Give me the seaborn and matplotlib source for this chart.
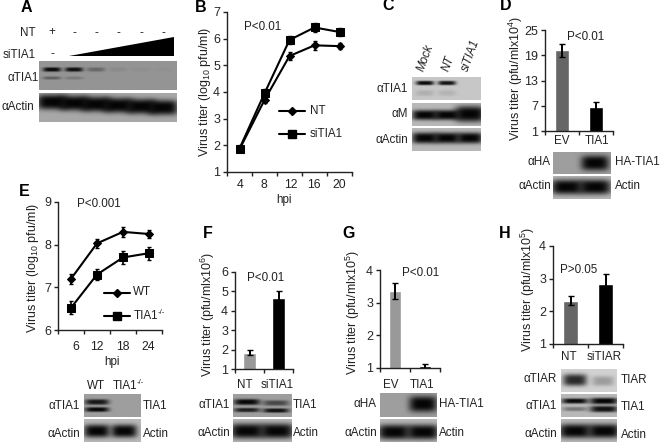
"""
Virus titer panels A-H with western blots
Run: python3 plot.py
"""

import numpy as np
import matplotlib
matplotlib.use("Agg")
import matplotlib.pyplot as plt
from matplotlib.patches import Polygon
import seaborn as sns

W, H = 660, 442

# ── Data ─────────────────────────────────────
B_HPI = [4, 8, 12, 16, 20]
B_NT = [1.85, 3.70, 5.35, 5.75, 5.72]
B_NT_ERR = [0.10, 0.12, 0.15, 0.18, 0.10]
B_SI = [1.88, 3.95, 5.95, 6.42, 6.25]
B_SI_ERR = [0.12, 0.15, 0.15, 0.18, 0.15]

E_HPI = [6, 12, 18, 24]
E_WT = [7.20, 8.03, 8.30, 8.25]
E_WT_ERR = [0.12, 0.10, 0.12, 0.10]
E_KO = [6.52, 7.30, 7.70, 7.80]
E_KO_ERR = [0.15, 0.12, 0.15, 0.15]

D_LABELS = ["EV", "TIA1"]
D_VALUES = [20.2, 6.8]
D_ERR = [1.5, 1.0]
F_LABELS = ["NT", "siTIA1"]
F_VALUES = [1.85, 4.65]
F_ERR = [0.15, 0.35]
G_LABELS = ["EV", "TIA1"]
G_VALUES = [3.35, 1.05]
G_ERR = [0.25, 0.08]
H_LABELS = ["NT", "siTIAR"]
H_VALUES = [2.33, 2.83]
H_ERR = [0.14, 0.32]

# band strengths per lane
A_TIA1_TOP = [0.95, 0.90, 0.30, 0.07, 0.04, 0.02]
A_TIA1_LOW = [0.35, 0.18, 0.0, 0.0, 0.0, 0.0]
A_ACTIN = [0.97, 0.97, 0.97, 0.97, 0.97, 0.97]
C_TIA1_TOP = [0.95, 0.90, 0.0]
C_TIA1_LOW = [0.12, 0.10, 0.0]
C_M = [0.97, 0.97, 0.97]
C_ACTIN = [0.97, 0.97, 0.97]
ACTIN_PAIR = [0.97, 0.97]

sns.set_style("ticks")
plt.rcParams["font.family"] = ["Liberation Sans", "DejaVu Sans"]
plt.rcParams["mathtext.fontset"] = "custom"
plt.rcParams["mathtext.rm"] = "Liberation Sans"
plt.rcParams["mathtext.default"] = "regular"
plt.rcParams["text.color"] = "#222222"
plt.rcParams["axes.labelcolor"] = "#222222"

FS = 8.4
FS_Y = 9.0
fig = plt.figure(figsize=(W / 100, H / 100), dpi=100)

# overlay in pixel coords for text
ov = fig.add_axes([0, 0, 1, 1], zorder=5)
ov.set_xlim(0, W)
ov.set_ylim(H, 0)
ov.axis("off")


def px_axes(l, t, r, b):
    return fig.add_axes([l / W, 1 - b / H, (r - l) / W, (b - t) / H])


def label(x, y, s, ha="center", size=FS, **kw):
    ov.text(x, y, s, ha=ha, va="center", fontsize=size, **kw)


def tia_ko(x, y):
    # hyphens, mathtext would turn them into long minus signs
    label(x, y, "TIA1", ha="left")
    label(x + 23.5, y - 3, "-/-", ha="left", size=5.6)


def style_axes(ax, yticks):
    sns.despine(ax=ax)
    ax.set_yticks(yticks)
    ax.tick_params(axis="y", length=3, width=1, pad=2, labelsize=FS_Y, color="#222222")
    ax.tick_params(axis="x", which="major", length=0, labelbottom=False)
    ax.tick_params(axis="x", which="minor", length=3, width=1, color="#222222")
    for s in ax.spines.values():
        s.set_linewidth(1)
        s.set_color("#222222")
    ax.set_xlabel("")
    ax.set_ylabel("")
    ax.patch.set_alpha(0)


def growth(box, x, a, a_err, b, b_err, names, xlim, ylim, yticks):
    ax = px_axes(*box)
    for y, err, m, ms, name in [(a, a_err, "D", 4.5, names[0]), (b, b_err, "s", 6, names[1])]:
        sns.lineplot(x=x, y=y, marker=m, markersize=ms, color="black", linewidth=1.5,
                     markeredgecolor="black", label=name, ax=ax, errorbar=None)
        ax.errorbar(x, y, yerr=err, fmt="none", ecolor="black", elinewidth=1.2, capsize=1.5)
    ax.set_xlim(*xlim)
    ax.set_ylim(*ylim)
    ax.set_xticks(x)
    step = x[1] - x[0]
    ax.set_xticks(np.arange(xlim[0], xlim[1] + 0.01, step), minor=True)
    style_axes(ax, yticks)
    ax.get_legend().remove()
    return ax


def bars(box, labels, values, err, colors, ylim, yticks, width=0.44):
    ax = px_axes(*box)
    sns.barplot(x=labels, y=values, hue=labels, palette=colors, width=width, legend=False,
                saturation=1, ax=ax)
    ax.errorbar(range(2), values, yerr=err, fmt="none", ecolor="black", elinewidth=1.4, capsize=2.5)
    ax.set_xlim(-0.5, 1.5)
    ax.set_ylim(*ylim)
    ax.set_xticks([-0.5, 0.5, 1.5], minor=True)
    style_axes(ax, yticks)
    return ax


def blot(box, bg, bands):
    """bands: (cx, cy, half width, half height, strength), all in pixels but strength"""
    l, t, r, b = box
    yy, xx = np.mgrid[t:b, l:r] + 0.5
    img = np.full(xx.shape, bg, dtype=float)
    for cx, cy, hw, hh, s in bands:
        prof = np.exp(-((xx - cx) / hw) ** 4 - np.abs((yy - cy) / hh) ** 3)
        img *= 1 - s * prof
    ax = px_axes(l, t, r, b)
    sns.heatmap(img, cmap="gray", vmin=0, vmax=1, cbar=False, xticklabels=False,
                yticklabels=False, ax=ax)
    return ax


def lanes(xs, cy, hw, hh, strengths):
    return [(x, cy, hw, hh, s) for x, s in zip(xs, strengths)]


# ── Panel letters ────────────────────────────
for s, x, y in [("A", 26, 7), ("B", 201, 7), ("C", 388, 6), ("D", 506, 6),
                ("E", 24, 192), ("F", 208, 234), ("G", 349, 234), ("H", 505, 234)]:
    label(x, y, s, size=11.5, fontweight="bold", color="black")

# ── A ────────────────────────────────────────
A_X = [52, 74, 96, 118, 141, 163]
label(28, 33, "NT", ha="center")
label(52, 32, "+")
for x in A_X[1:]:
    label(x, 33, "-")
label(19, 55, "siTIA1")
label(52, 54, "-")
ov.add_patch(Polygon([(69, 56), (174, 37), (174, 56)], closed=True, color="black", lw=0))
label(23, 78, "αTIA1")
label(18, 107, "αActin")
blot((39, 61, 177, 90), 0.58, lanes(A_X, 69.5, 9, 2.2, A_TIA1_TOP) + lanes(A_X, 78, 9, 1.6, A_TIA1_LOW))
blot((39, 93, 177, 122), 0.66, [(x, 102 + i * 1.1, 15, 7.5, s) for i, (x, s) in enumerate(zip(A_X, A_ACTIN))])

# ── B ────────────────────────────────────────
growth((227, 12, 352, 172), B_HPI, B_NT, B_NT_ERR, B_SI, B_SI_ERR, ["NT", "siTIA1"],
       (2, 22), (1, 7), range(1, 8))
for x, s in zip([240, 264, 291, 314, 339], B_HPI):
    label(x, 185, str(s), size=FS_Y - 0.2)
label(263, 27, "P<0.01")
label(205, 92, "Virus titer (log$_{10}$ pfu/ml)", rotation=90, size=FS_Y)
label(284, 200, "hpi")
for y, m, ms, s in [(111, "D", 4.5, "NT"), (134, "s", 6, "siTIA1")]:
    ov.plot([279, 305], [y, y], color="black", lw=1.5)
    ov.plot([292], [y], color="black", marker=m, markersize=ms)
    label(310, y, s, ha="left")

# ── C ────────────────────────────────────────
C_X = [425, 447, 470]
for x, s in zip(C_X, ["Mock", "NT", "siTIA1"]):
    ov.text(x + 1, 73, s, rotation=70, ha="center", va="bottom", fontsize=FS, style="italic")
label(408, 89, "αTIA1", ha="right")
label(408, 114, "αM", ha="right")
label(408, 140, "αActin", ha="right")
blot((412, 77, 481, 100), 0.78, lanes(C_X[:2], 83, 9, 2.2, C_TIA1_TOP) + lanes(C_X[:2], 93, 9, 3, C_TIA1_LOW))
blot((412, 103, 481, 126), 0.72, lanes(C_X[:2], 115, 13, 5, C_M[:2]) + [(470, 114, 15, 8, C_M[2])])
blot((412, 128, 481, 151), 0.72, lanes(C_X, 138, 13, 5.5, C_ACTIN))

# ── D ────────────────────────────────────────
bars((545, 30, 613, 131), D_LABELS, D_VALUES, D_ERR, ["#666666", "#000000"], (1, 25), [1, 7, 13, 19, 25])
for x, s in zip([562, 597], D_LABELS):
    label(x, 141, s)
label(516, 78, "Virus titer (pfu/mlx10$^{4}$)", rotation=90, size=FS_Y)
label(586, 37, "P<0.01")
label(551, 162, "αHA", ha="right")
label(551, 186, "αActin", ha="right")
label(615, 162, "HA-TIA1", ha="left")
label(615, 186, "Actin", ha="left")
blot((553, 152, 611, 174), 0.62, [(595, 163, 14, 7.5, 0.97)])
blot((553, 176, 611, 199), 0.72, lanes([567, 595], 187, 16, 7.5, ACTIN_PAIR))

# ── E ────────────────────────────────────────
growth((58, 202, 162, 330), E_HPI, E_WT, E_WT_ERR, E_KO, E_KO_ERR, ["WT", "TIA1-/-"],
       (3, 27), (6, 9), [6, 7, 8, 9])
for x, s in zip([76, 97, 123, 148], E_HPI):
    label(x, 347, str(s), size=FS_Y - 0.2)
label(77, 204, "P<0.001", ha="left")
label(33, 268, "Virus titer (log$_{10}$ pfu/ml)", rotation=90, size=FS_Y)
label(112, 362, "hpi")
for y, m, ms in [(293, "D", 4.5), (316, "s", 6)]:
    ov.plot([104, 130], [y, y], color="black", lw=1.5)
    ov.plot([117], [y], color="black", marker=m, markersize=ms)
label(133, 292, "WT", ha="left")
tia_ko(134, 316)
label(96, 386, "WT")
tia_ko(113, 386)
label(80, 406, "αTIA1", ha="right")
label(80, 434, "αActin", ha="right")
label(143, 406, "TIA1", ha="left")
label(143, 434, "Actin", ha="left")
blot((84, 394, 141, 417), 0.62, [(97, 402, 12, 2.8, 0.85), (97, 409.5, 12, 2.4, 0.95)])
blot((84, 419, 141, 442), 0.72, lanes([97, 124], 431, 13, 6.5, ACTIN_PAIR))

# ── F ────────────────────────────────────────
bars((235, 272, 293, 369), F_LABELS, F_VALUES, F_ERR, ["#999999", "#000000"], (1, 6), range(1, 7))
for x, s in zip([245, 277], F_LABELS):
    label(x, 385, s)
label(208, 314, "Virus titer (pfu/mlx10$^{6}$)", rotation=90, size=FS_Y)
label(266, 278, "P<0.01")
label(230, 405, "αTIA1", ha="right")
label(230, 433, "αActin", ha="right")
label(293, 405, "TIA1", ha="left")
label(293, 433, "Actin", ha="left")
blot((233, 394, 292, 417), 0.62, [(247, 402, 13, 3, 0.95), (247, 410, 13, 2.2, 0.8),
                                  (276, 403, 13, 2.8, 0.55), (276, 410.5, 13, 2.2, 0.9)])
blot((233, 419, 292, 442), 0.72, lanes([247, 277], 431, 17, 7.5, ACTIN_PAIR))

# ── G ────────────────────────────────────────
bars((380, 270, 440, 368), G_LABELS, G_VALUES, G_ERR, ["#999999", "#000000"], (1, 4), range(1, 5), width=0.4)
for x, s in zip([391, 422], G_LABELS):
    label(x, 385, s)
label(353, 312, "Virus titer (pfu/mlx10$^{5}$)", rotation=90, size=FS_Y)
label(421, 273, "P<0.01")
label(377, 404, "αHA", ha="right")
label(377, 433, "αActin", ha="right")
label(439, 404, "HA-TIA1", ha="left")
label(439, 433, "Actin", ha="left")
blot((380, 393, 437, 417), 0.62, [(423, 404, 14, 8, 0.97)])
blot((380, 419, 437, 442), 0.72, lanes([394, 423], 432, 16, 7.5, ACTIN_PAIR))

# ── H ────────────────────────────────────────
bars((553, 246, 623, 344), H_LABELS, H_VALUES, H_ERR, ["#666666", "#000000"], (1, 4), range(1, 5))
for x, s in zip([569, 604], H_LABELS):
    label(x, 357, s)
label(528, 289, "Virus titer (pfu/mlx10$^{5}$)", rotation=90, size=FS_Y)
label(579, 270, "P>0.05")
label(557, 379, "αTIAR", ha="right")
label(557, 406, "αTIA1", ha="right")
label(557, 434, "αActin", ha="right")
label(621, 380, "TIAR", ha="left")
label(621, 407, "TIA1", ha="left")
label(621, 435, "Actin", ha="left")
blot((561, 369, 617, 392), 0.82, [(575, 380, 12, 6, 0.8), (603, 381, 11, 5, 0.25)])
blot((561, 394, 617, 417), 0.72, [(575, 401, 13, 2.6, 0.95), (575, 409, 12, 2.2, 0.35),
                                  (604, 401, 14, 3.2, 0.97), (604, 409, 14, 3.2, 0.9)])
blot((561, 419, 617, 442), 0.72, lanes([575, 604], 431, 16, 7, ACTIN_PAIR))

fig.savefig("out.png", dpi=100)
